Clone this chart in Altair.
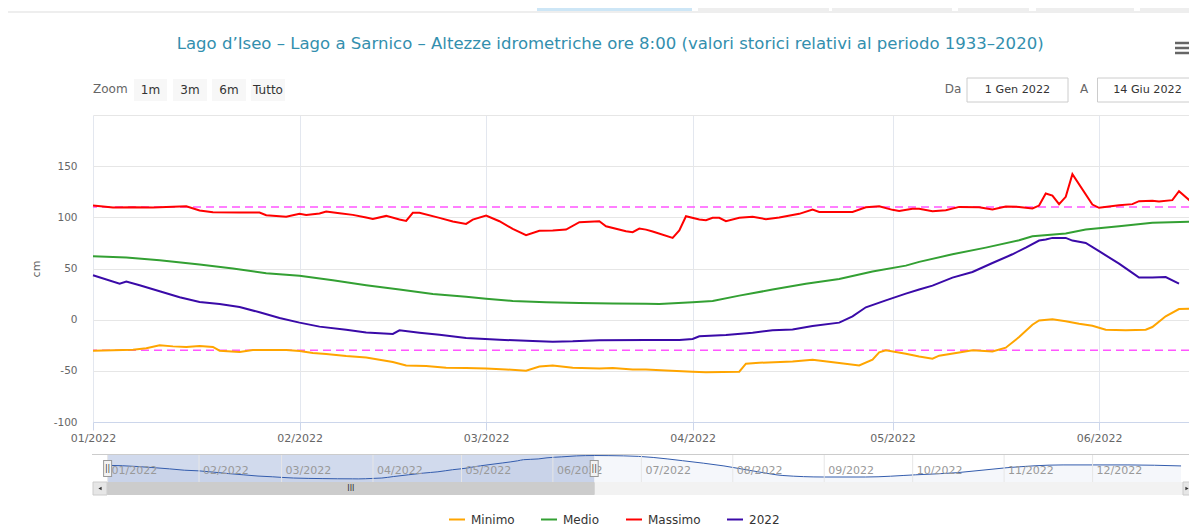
import altair as alt
import pandas as pd

FONT = "DejaVu Sans"

# ---------------- data ----------------
serie_nomi = ["Minimo", "Medio", "Massimo", "2022"]
serie_colori = ["#ffa500", "#33a033", "#ff0000", "#3a0aa8"]

# day offsets from 1 Jan 2022 and level in cm
minimo_giorni = [0, 6, 8, 10, 12, 14, 16, 18, 19, 22, 24, 29, 31, 33, 35, 38, 41, 43, 45, 47,
                 50, 53, 56, 59, 62, 65, 67, 69, 72, 76, 78, 81, 83, 86, 90, 92, 97, 98, 100,
                 105, 108, 112, 115, 117, 118, 119, 122, 124, 126, 127, 130, 132, 135, 137,
                 139, 141, 142, 144, 146, 148, 150, 152, 155, 158, 159, 161, 163, 165]
minimo_cm = [-30.3, -29.4, -28, -25.1, -26.1, -26.7, -25.8, -26.7, -30.3, -31.6, -29.7, -29.7,
             -30.7, -32.6, -33.6, -35.6, -37, -39.1, -41.4, -44.7, -45.3, -47, -47.3, -47.6,
             -48.6, -49.9, -45.7, -44.7, -47, -47.6, -47.3, -48.6, -48.6, -49.6, -50.9, -51.5,
             -50.9, -43, -42.1, -40.8, -39.1, -42.4, -44.7, -39.1, -32, -30, -33.3, -35.9,
             -38.2, -35.2, -32, -30, -31, -27.4, -17, -4.9, -0.7, 0.3, -1.6, -3.9, -5.9, -9.8,
             -10.4, -9.8, -7.2, 3.3, 10.4, 10.8]

medio_giorni = [0, 5, 10, 16, 21, 26, 31, 36, 41, 46, 51, 56, 59, 63, 68, 73, 78, 83, 85, 90,
                93, 97, 102, 107, 112, 117, 122, 124, 129, 134, 139, 141, 146, 149, 154, 159, 165]
medio_cm = [62, 60.7, 58, 53.8, 49.9, 45.3, 43, 38.5, 33.6, 29.4, 25.1, 22.5, 20.5, 18.3, 17,
            16.3, 15.7, 15.5, 15.3, 17, 18.3, 23.5, 29.4, 35.2, 39.8, 47, 52.8, 56.5, 63.9, 70.4,
            77.6, 81.5, 84.1, 88, 91.3, 94.6, 95.9]

massimo_giorni = [0, 3, 6, 9, 11, 14, 16, 18, 22, 25, 26, 29, 31, 32, 34, 35, 37, 39, 41, 42,
                  44, 46, 47, 48, 49, 52, 54, 56, 57, 59, 61, 63, 65, 67, 69, 71, 73, 76, 77,
                  80, 81, 82, 83, 84, 87, 88, 89, 91, 92, 93, 94, 95, 97, 99, 101, 103, 106,
                  108, 109, 114, 116, 118, 120, 121, 123, 124, 126, 128, 130, 133, 135, 137,
                  139, 141, 142, 143, 144, 145, 146, 147, 150, 151, 154, 156, 157, 159, 160,
                  162, 163, 165]
massimo_cm = [111.5, 109.6, 109.9, 109.6, 110.2, 110.9, 106.7, 105, 104.7, 104.7, 102.1, 100.5,
              103.4, 102.4, 103.7, 105.7, 104, 102.4, 99.8, 98.5, 101.4, 97.8, 96.5, 104.4,
              104.4, 99.5, 95.9, 93.6, 97.8, 101.8, 96.2, 88.7, 82.5, 86.8, 87.1, 88.1, 95.2,
              96.2, 91.3, 86.4, 85.5, 89, 88, 86.1, 79.9, 87.1, 101.1, 97.8, 97.2, 99.5, 99.5,
              96.2, 99.5, 100.5, 98.2, 99.8, 103.4, 107.6, 105.3, 105.3, 109.9, 110.9, 107.3,
              106.3, 108.3, 108.3, 106, 107, 110.2, 109.9, 107.6, 110.6, 110.2, 108.6, 111.5,
              123.3, 121.3, 112.9, 120, 142.2, 112.5, 109.3, 111.9, 112.9, 115.8, 116.1, 115.5,
              116.8, 125.6, 114.2]

anno2022_giorni = [0, 4, 5, 7, 10, 13, 16, 19, 22, 25, 28, 31, 34, 38, 41, 45, 46, 49, 52, 56,
                   61, 66, 69, 72, 76, 83, 88, 90, 91, 95, 99, 102, 105, 108, 112, 114, 116,
                   119, 122, 124, 126, 129, 132, 135, 138, 140, 142, 143, 144, 146, 147, 149,
                   151, 154, 156, 157, 159, 161, 163]
anno2022_cm = [43.4, 35.2, 37.2, 33.6, 27.7, 21.9, 17.3, 15.3, 12.4, 7.2, 1.6, -2.9, -6.8, -9.8,
               -12.5, -14, -10.4, -12.7, -14.7, -17.9, -19.6, -20.9, -21.5, -21.2, -20.2, -19.9,
               -19.9, -18.9, -16.3, -15, -12.7, -10.4, -9.5, -6.2, -2.9, 3.3, 12.1, 18.9, 25.4,
               29.5, 33.3, 41.1, 46.6, 55.4, 63.9, 70.4, 77.3, 78.3, 79.9, 79.9, 77.3, 75, 66.9,
               54.8, 45.7, 41.1, 41.1, 41.7, 35.2]

limiti_cm = [110, -30]

# navigator: mean level over the whole year (second half read from the navigator)
nav_h2_giorni = [170, 180, 190, 195, 209, 221, 229, 243, 257, 274, 288, 305, 324, 346, 364]
nav_h2_cm = [95.5, 93, 84, 78, 60, 39, 27, 21.8, 21.8, 29.4, 36.7, 53.9, 63.5, 63.5, 60]

mesi_etichette = ["01/2022", "02/2022", "03/2022", "04/2022", "05/2022", "06/2022",
                  "07/2022", "08/2022", "09/2022", "10/2022", "11/2022", "12/2022"]
selezione = ["2022-01-01", "2022-06-15"]

titolo = ("Lago d\u2019Iseo \u2013 Lago a Sarnico \u2013 Altezze idrometriche ore 8:00 "
          "(valori storici relativi al periodo 1933\u20132020)")

# ---------------- tables ----------------
inizio = pd.Timestamp("2022-01-01")


def date_da(giorni):
    return [(inizio + pd.Timedelta(days=g)).strftime("%Y-%m-%d") for g in giorni]


parti = []
for nome, g, v in [("Minimo", minimo_giorni, minimo_cm), ("Medio", medio_giorni, medio_cm),
                   ("Massimo", massimo_giorni, massimo_cm), ("2022", anno2022_giorni, anno2022_cm)]:
    parti.append(pd.DataFrame({"data": date_da(g), "valore": v, "serie": nome}))
df = pd.concat(parti, ignore_index=True)

lim_df = pd.DataFrame({"valore": limiti_cm})
nav_df = pd.DataFrame({"data": date_da(medio_giorni + nav_h2_giorni), "valore": medio_cm + nav_h2_cm})
mesi_df = pd.DataFrame({"mese": [f"2022-{m:02d}-01" for m in range(1, 13)], "etichetta": mesi_etichette})
t0, t1 = pd.Timestamp(selezione[0]), pd.Timestamp(selezione[1])
sel_df = pd.DataFrame({"inizio": [selezione[0]], "fine": [selezione[1]],
                       "centro": [(t0 + (t1 - t0) / 2).strftime("%Y-%m-%dT%H:%M:%SZ")]})
sel_pts = pd.DataFrame({"data": selezione})
uno = pd.DataFrame({"k": [0]})


def dt(y, m, d, h=0):
    return alt.DateTime(year=y, month=m, date=d, hours=h, utc=True)


# ---------------- scales ----------------
# visible part of the plot (the page is 1197 px wide, so the last few pixels fall off)
x_scale = alt.Scale(type="utc", domain=[dt(2022, 1, 1), dt(2022, 6, 14, 12)], nice=False)
y_scale = alt.Scale(domain=[-100, 200], nice=False, zero=False)
nav_x = alt.Scale(type="utc", domain=[dt(2022, 1, 1), dt(2023, 1, 1)], range=[14.6, 1091], nice=False)
nav_y = alt.Scale(domain=[4.6, 97.7], range=[367, 340], nice=False, zero=False)

x_axis = alt.Axis(values=[dt(2022, m, 1) for m in range(1, 7)],
                  labelExpr="utcFormat(datum.value, '%m/%Y')",
                  grid=True, gridColor="#e3e7ef", domainColor="#ccd6eb", tickColor="#ccd6eb",
                  tickSize=8, labelPadding=2.5, labelColor="#666666", labelFont=FONT, labelFontSize=11,
                  labelFlush=False, labelOverlap=False, title=None)
y_axis = alt.Axis(values=[-100, -50, 0, 50, 100, 150, 200],
                  labelExpr="datum.value == 200 ? '' : toString(datum.value)",
                  grid=True, gridColor="#e6e6e6", domain=False, ticks=False, labelPadding=16,
                  labelColor="#666666", labelFont=FONT, labelFontSize=10.5, title=None)


# ---------------- helpers for interface decoration ----------------
def testo(t, x, y, size=12, color="#666666", align="center", angle=0, weight="normal"):
    kw = dict(text=t, align=align, baseline="middle", fontSize=size, color=color, font=FONT,
              fontWeight=weight)
    if angle:
        kw["angle"] = angle
    return alt.Chart(uno).mark_text(**kw).encode(x=alt.value(x), y=alt.value(y))


def rett(x1, x2, y1, y2, fill, stroke=None):
    kw = dict(fill=fill)
    if stroke:
        kw["stroke"] = stroke
        kw["strokeWidth"] = 1
    return alt.Chart(uno).mark_rect(**kw).encode(x=alt.value(x1), x2=alt.value(x2),
                                                 y=alt.value(y1), y2=alt.value(y2))


def linea(x1, x2, y1, y2, color, w=1):
    return alt.Chart(uno).mark_rule(color=color, strokeWidth=w).encode(
        x=alt.value(x1), x2=alt.value(x2), y=alt.value(y1), y2=alt.value(y2))


# ---------------- main plot ----------------
soglie = alt.Chart(lim_df).mark_rule(color="#ff55ff", strokeDash=[8, 5], strokeWidth=1.5).encode(
    y=alt.Y("valore:Q", scale=y_scale, axis=None))

linee = alt.Chart(df).mark_line(strokeWidth=2).encode(
    x=alt.X("data:T", scale=x_scale, axis=x_axis),
    y=alt.Y("valore:Q", scale=y_scale, axis=y_axis),
    color=alt.Color("serie:N", scale=alt.Scale(domain=serie_nomi, range=serie_colori),
                    legend=alt.Legend(orient="none", legendX=355, legendY=395.5, direction="horizontal",
                                      title=None, symbolType="stroke", symbolSize=256,
                                      symbolStrokeWidth=2, labelFont=FONT, labelFontSize=12,
                                      labelColor="#333333", columnPadding=22, labelOffset=5,
                                      padding=0)),
)

decor = [
    # top tabs strip
    rett(-85, 1104, -104, -102, "#eeeeee"),
    rett(444, 599, -107, -104, "#cde6f6"),
    rett(605, 736, -107, -104, "#eeeeee"),
    rett(739, 859, -107, -104, "#eeeeee"),
    rett(865, 936, -107, -104, "#eeeeee"),
    rett(943, 1041, -107, -104, "#eeeeee"),
    rett(1047, 1104, -107, -104, "#eeeeee"),
    # title and menu
    testo(titolo, 517.2, -71.5, size=16.55, color="#338fae"),
    linea(1082, 1096, -72, -72, "#666666", 2.5),
    linea(1082, 1096, -67, -67, "#666666", 2.5),
    linea(1082, 1096, -62, -62, "#666666", 2.5),
    # range selector buttons
    testo("Zoom", 0, -26, size=12, align="left"),
    rett(41, 74, -36, -14, "#f7f7f7"),
    rett(80, 114, -36, -14, "#f7f7f7"),
    rett(119, 153, -36, -14, "#f7f7f7"),
    rett(158, 192, -36, -14, "#f7f7f7"),
    testo("1m", 57.5, -25, size=12, color="#333333"),
    testo("3m", 97, -25, size=12, color="#333333"),
    testo("6m", 136, -25, size=12, color="#333333"),
    testo("Tutto", 175, -25, size=12, color="#333333"),
    # date inputs
    testo("Da", 860, -26, size=12),
    rett(874, 975, -37, -13, "#ffffff", "#cccccc"),
    testo("1 Gen 2022", 924.5, -25, size=11.2, color="#333333"),
    testo("A", 991, -26, size=12),
    rett(1004.5, 1105, -37, -13, "#ffffff", "#cccccc"),
    testo("14 Giu 2022", 1054.5, -25, size=11.2, color="#333333"),
    # y axis title
    testo("cm", -56, 154, size=11, angle=270),
]

# ---------------- navigator ----------------
nav_mask = alt.Chart(sel_df).mark_rect(fill="#6685c2", opacity=0.3).encode(
    x=alt.X("inizio:T", scale=nav_x, axis=None), x2="fine:T",
    y=alt.value(340), y2=alt.value(367))
nav_sep = alt.Chart(mesi_df).mark_rule(color="#e6e6e6").encode(
    x=alt.X("mese:T", scale=nav_x, axis=None), y=alt.value(340), y2=alt.value(367))
nav_area = alt.Chart(nav_df).mark_area(interpolate="monotone", color="#335cad", fillOpacity=0.05,
                                       line={"color": "#335cad", "strokeWidth": 1}).encode(
    x=alt.X("data:T", scale=nav_x, axis=None),
    y=alt.Y("valore:Q", scale=nav_y, axis=None), y2=alt.value(367))
nav_lbl = alt.Chart(mesi_df).mark_text(align="left", dx=4, baseline="middle", fontSize=11,
                                       color="#999999", font=FONT).encode(
    x=alt.X("mese:T", scale=nav_x, axis=None), y=alt.value(356), text="etichetta:N")
nav_bordo = linea(-1, 1097, 339.5, 339.5, "#cccccc")
scroll_track = rett(0, 1104, 367, 380, "#f2f2f2")
scroll_btn_l = rett(0, 14, 367, 380, "#e6e6e6", "#cccccc")
scroll_btn_r = rett(1090, 1104, 367, 380, "#e6e6e6", "#cccccc")
freccia_l = alt.Chart(uno).mark_point(shape="triangle-left", filled=True, color="#333333", size=14,
                                      opacity=1).encode(x=alt.value(7), y=alt.value(373.5))
freccia_r = alt.Chart(uno).mark_point(shape="triangle-right", filled=True, color="#333333", size=14,
                                      opacity=1).encode(x=alt.value(1094), y=alt.value(373.5))
scroll_thumb = alt.Chart(sel_df).mark_rect(fill="#cccccc", stroke="#cccccc").encode(
    x=alt.X("inizio:T", scale=nav_x, axis=None), x2="fine:T",
    y=alt.value(367.5), y2=alt.value(379.5))
scroll_grip = alt.Chart(sel_df).mark_text(text="III", fontSize=8, color="#333333", font=FONT,
                                          baseline="middle").encode(
    x=alt.X("centro:T", scale=nav_x, axis=None), y=alt.value(373.5))
maniglia_bordo = alt.Chart(sel_pts).mark_rule(color="#999999", strokeWidth=9).encode(
    x=alt.X("data:T", scale=nav_x, axis=None), y=alt.value(345), y2=alt.value(362))
maniglia = alt.Chart(sel_pts).mark_rule(color="#f2f2f2", strokeWidth=7).encode(
    x=alt.X("data:T", scale=nav_x, axis=None), y=alt.value(346), y2=alt.value(361))
maniglia_seg = alt.Chart(sel_pts).mark_text(text="||", fontSize=8, color="#333333", font=FONT,
                                            baseline="middle").encode(
    x=alt.X("data:T", scale=nav_x, axis=None), y=alt.value(353.5))

navigatore = [nav_mask, nav_area, nav_sep, nav_lbl, nav_bordo, scroll_track, scroll_thumb,
              scroll_btn_l, scroll_btn_r, freccia_l, freccia_r, scroll_grip,
              maniglia_bordo, maniglia, maniglia_seg]

chart = alt.layer(*decor, soglie, linee, *navigatore).resolve_scale(
    x="independent", y="independent").properties(
    width=1096, height=307,
    autosize=alt.AutoSizeParams(type="none"),
    padding={"left": 85, "top": 107, "right": 0, "bottom": 109},
).configure_view(stroke=None)

chart.save("out.html", embed_options={"renderer": "svg", "actions": False})
